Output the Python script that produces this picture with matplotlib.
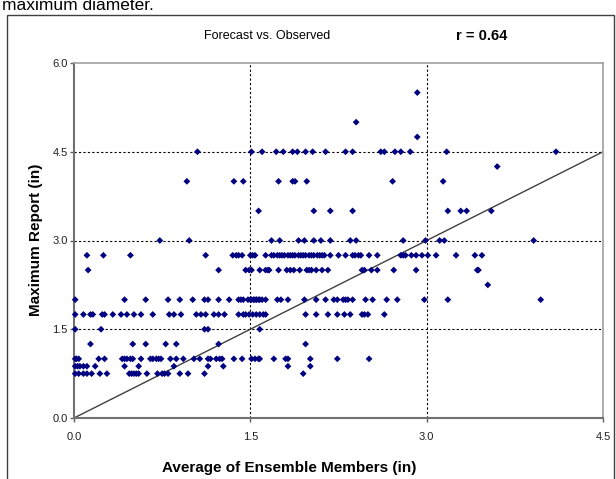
import numpy as np
import matplotlib.pyplot as plt
from matplotlib.patches import Rectangle

plt.rcParams['font.family'] = ['Liberation Sans', 'DejaVu Sans']

# observed report sizes (in) and the ensemble-mean forecasts (in) for each report
rows = {
    5.5: [2.92],
    5.0: [2.40],
    4.75: [2.92],
    4.5: [1.05, 1.51, 1.60, 1.72, 1.78, 1.86, 1.90, 1.97, 2.03, 2.14, 2.31, 2.37,
          2.61, 2.64, 2.73, 2.78, 2.86, 3.17, 4.10],
    4.25: [3.60],
    4.0: [0.96, 1.36, 1.44, 1.74, 1.86, 1.88, 1.98, 2.71, 3.14],
    3.5: [1.57, 2.04, 2.18, 2.37, 3.18, 3.29, 3.34, 3.55],
    3.0: [0.73, 0.98, 1.68, 1.75, 1.91, 1.96, 2.04, 2.10, 2.18, 2.35, 2.40, 2.80,
          2.99, 3.11, 3.15, 3.91],
    2.75: [0.11, 0.25, 0.48, 1.12, 1.35, 1.38, 1.40, 1.43, 1.50, 1.52, 1.54, 1.63,
           1.68, 1.70, 1.73, 1.75, 1.77, 1.79, 1.82, 1.84, 1.86, 1.88, 1.91, 1.93,
           1.95, 1.97, 2.00, 2.02, 2.04, 2.07, 2.09, 2.11, 2.13, 2.18, 2.25, 2.31,
           2.37, 2.39, 2.42, 2.44, 2.51, 2.58, 2.78, 2.80, 2.82, 2.87, 2.91, 2.96,
           3.01, 3.08, 3.25, 3.41, 3.47],
    2.5: [0.12, 1.23, 1.46, 1.49, 1.51, 1.58, 1.63, 1.65, 1.66, 1.74, 1.81, 1.84,
          1.87, 1.92, 1.98, 2.00, 2.02, 2.06, 2.11, 2.16, 2.45, 2.47, 2.53, 2.58,
          2.72, 2.91, 3.43, 3.44],
    2.25: [3.52],
    2.0: [0.01, 0.43, 0.61, 0.80, 0.90, 1.01, 1.11, 1.14, 1.23, 1.32, 1.40, 1.42,
          1.44, 1.48, 1.50, 1.53, 1.55, 1.57, 1.51, 1.53, 1.55, 1.58, 1.60, 1.63,
          1.73, 1.76, 1.82, 1.96, 2.06, 2.14, 2.21, 2.24, 2.29, 2.31, 2.33, 2.37,
          2.48, 2.54, 2.66, 2.75, 2.98, 3.18, 3.97],
    1.75: [0.01, 0.08, 0.14, 0.16, 0.24, 0.26, 0.33, 0.40, 0.45, 0.51, 0.57, 0.67,
           0.81, 0.85, 0.91, 1.04, 1.08, 1.12, 1.19, 1.23, 1.28, 1.40, 1.44, 1.46,
           1.49, 1.52, 1.55, 1.58, 1.61, 1.63, 1.97, 2.06, 2.16, 2.24, 2.30, 2.35,
           2.45, 2.47, 2.50, 2.64],
    1.5: [0.01, 0.23, 1.11, 1.14, 1.58],
    1.25: [0.14, 0.50, 0.61, 0.78, 0.87, 1.23, 1.97],
    1.0: [0.01, 0.02, 0.04, 0.21, 0.26, 0.41, 0.43, 0.45, 0.48, 0.50, 0.57, 0.65,
          0.67, 0.70, 0.72, 0.74, 0.82, 0.87, 0.93, 1.02, 1.07, 1.14, 1.16, 1.21,
          1.24, 1.26, 1.36, 1.43, 1.51, 1.54, 1.57, 1.58, 1.70, 1.80, 1.82, 2.01,
          2.24, 2.51],
    0.875: [0.01, 0.03, 0.05, 0.08, 0.11, 0.18, 0.43, 0.55, 0.85, 1.14, 1.27, 1.82,
            2.01],
    0.75: [0.01, 0.04, 0.08, 0.11, 0.15, 0.22, 0.28, 0.47, 0.49, 0.51, 0.53, 0.55,
           0.62, 0.71, 0.75, 0.77, 0.80, 0.90, 0.97, 1.11, 1.95],
}

forecast = []
observed = []
for obs, fc in rows.items():
    forecast += fc
    observed += [obs] * len(fc)

ticks = [0.0, 1.5, 3.0, 4.5, 6.0]

fig = plt.figure(figsize=(6.16, 4.79), dpi=100)
ax = fig.add_axes([74 / 616, 1 - 418 / 479, 529 / 616, 355 / 479])

# outer chart frame (runs off the bottom of the picture)
fig.patches.append(Rectangle((7 / 616, -0.1), 607 / 616, 1.1 - 15 / 479,
                             transform=fig.transFigure, fill=False,
                             edgecolor='#404040', lw=1.0))
fig.text(2 / 616, 1 - 10 / 479, "maximum diameter.", fontsize=12.5,
         va='baseline', ha='left')

ax.set_xlim(0, 4.5)
ax.set_ylim(0, 6.0)
ax.set_xticks(ticks[:4])
ax.set_yticks(ticks)
ax.set_xticklabels(["{:.1f}".format(t) for t in ticks[:4]])
ax.set_yticklabels(["{:.1f}".format(t) for t in ticks])
ax.tick_params(direction='out', length=3, width=1, color='#606060',
               labelsize=8, labelcolor='#202020')
ax.tick_params(axis='x', pad=7)
ax.tick_params(axis='y', pad=1.5)

for t in ticks[1:4]:
    ax.axhline(t, color='black', lw=0.8, ls=(0, (2, 2)), zorder=1)
for t in ticks[1:3]:
    ax.axvline(t, color='black', lw=0.8, ls=(0, (2, 2)), zorder=1)

ax.plot([0, 4.5], [0, 4.5], color='#404040', lw=1.0, zorder=2)
ax.scatter(forecast, observed, marker='D', s=12, color='#000080',
           edgecolors='none', zorder=3, clip_on=False)

for side in ['left', 'bottom']:
    ax.spines[side].set_color('#707070')
    ax.spines[side].set_linewidth(1.5)
for side in ['top', 'right']:
    ax.spines[side].set_color('#a0a0a0')
    ax.spines[side].set_linewidth(1.2)

fig.text(267 / 616, 1 - 36 / 479, "Forecast vs. Observed", fontsize=9,
         ha='center', va='center')
fig.text(482 / 616, 1 - 36 / 479, "r = 0.64", fontsize=10.5, weight='bold',
         ha='center', va='center')
fig.text(289 / 616, 1 - 468 / 479, "Average of Ensemble Members (in)",
         fontsize=11, weight='bold', ha='center', va='center')
fig.text(36 / 616, 1 - 240 / 479, "Maximum Report (in)", fontsize=11,
         weight='bold', ha='center', va='center', rotation=90)

fig.savefig("out.png", dpi=100)
